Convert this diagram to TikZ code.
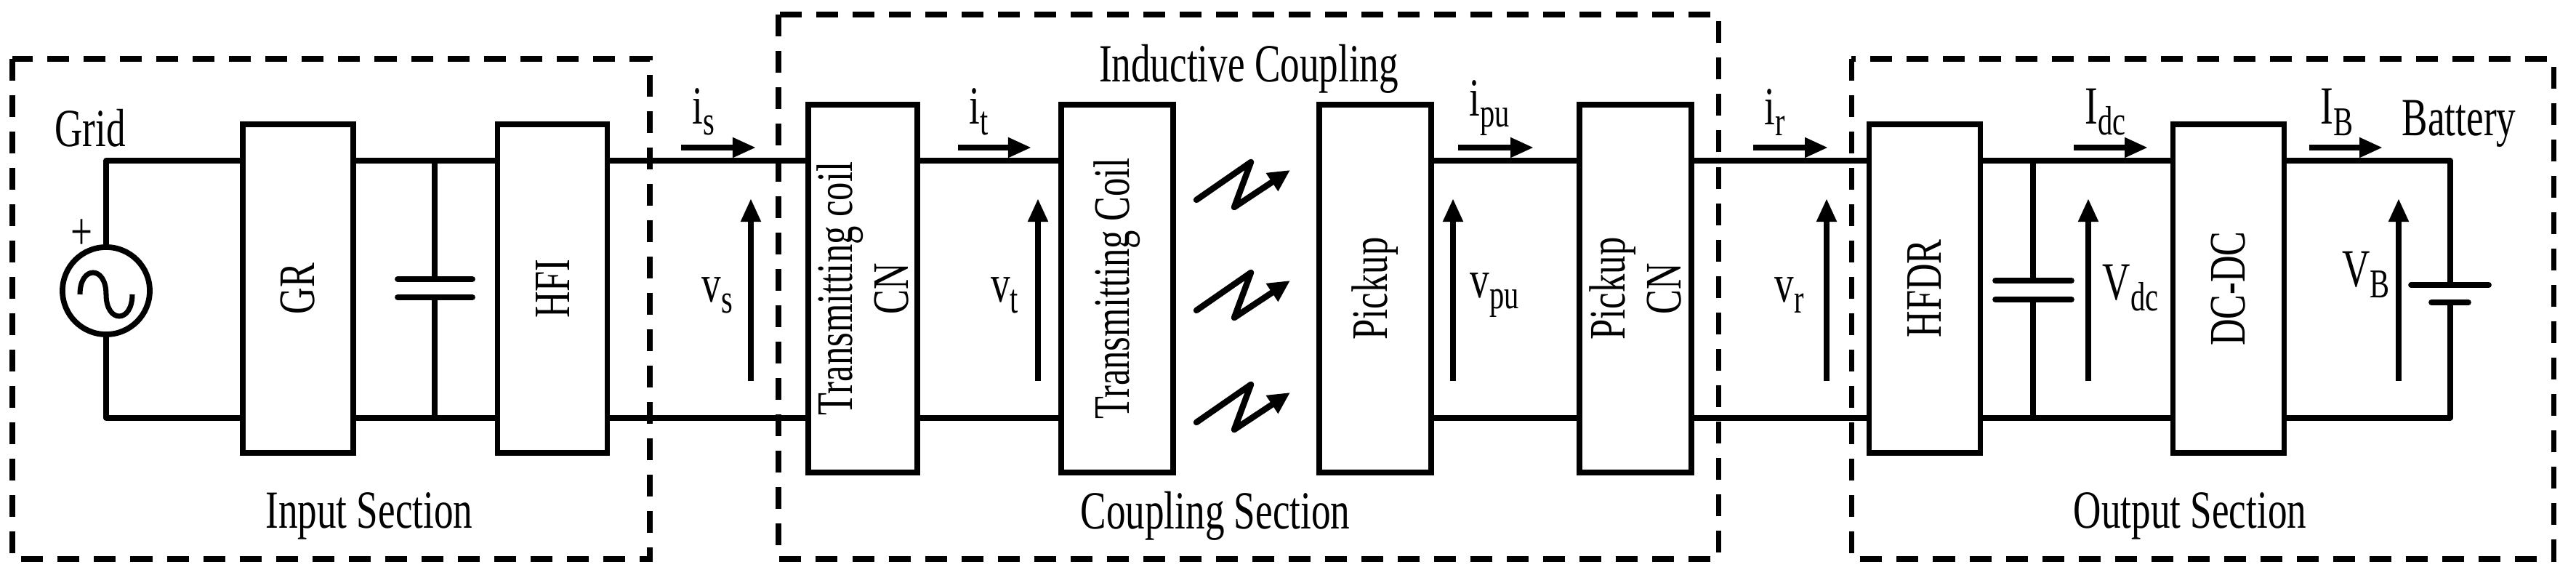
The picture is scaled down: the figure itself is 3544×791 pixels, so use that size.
\documentclass[tikz,border=0pt]{standalone}
\usepackage{fontspec}
\setmainfont{Liberation Serif}[FakeStretch=0.72]
\usetikzlibrary{arrows.meta}
\newcommand\mysub[1]{\raisebox{-0.45ex}{\fontsize{16}{16}\selectfont #1}}
\begin{document}
\begin{tikzpicture}[x=0.01cm,y=-0.01cm,
  wire/.style={line width=2.2pt,line cap=round,line join=round},
  blk/.style={draw,line width=2.2pt,minimum width=#1,rotate=90,inner sep=0pt,align=center,font=\fontsize{20}{22}\selectfont},
  sec/.style={draw,line width=2pt,dash pattern=on 0.3cm off 0.2cm},
  arr/.style={line width=2.2pt,-{Triangle[length=0.32cm,width=0.26cm]}},
  lbl/.style={font=\fontsize{21}{24}\selectfont,inner sep=0pt}]
\useasboundingbox (0,0) rectangle (3544,791);
% sections
\draw[sec] (17,81) rectangle (894,769);
\draw[sec] (1071,20) rectangle (2364,769);
\draw[sec] (2547,81) rectangle (3513,769);
\node[lbl] at (508,710) {Input Section};
\node[lbl] at (1672,710) {Coupling Section};
\node[lbl] at (3013,710) {Output Section};
\node[lbl] at (1718,95) {Inductive Coupling};
% blocks (rotated: north = left side, south = right side)
\node[blk=4.52cm,minimum height=1.52cm] (gr) at (410,397) {GR};
\node[blk=4.52cm,minimum height=1.51cm] (hfi) at (760,397) {HFI};
\node[blk=5.06cm,minimum height=1.50cm] (tcn) at (1187,397) {Transmitting coil\\CN};
\node[blk=5.06cm,minimum height=1.54cm] (tc) at (1537,397) {Transmitting Coil};
\node[blk=5.06cm,minimum height=1.54cm] (pu) at (1892,397) {Pickup};
\node[blk=5.06cm,minimum height=1.54cm] (pcn) at (2250,397) {Pickup\\CN};
\node[blk=4.52cm,minimum height=1.53cm] (hfdr) at (2648,397) {HFDR};
\node[blk=4.52cm,minimum height=1.53cm] (dc) at (3066,397) {DC-DC};
% source
\node[draw,circle,line width=2.2pt,minimum size=1.2cm,inner sep=0pt] (src) at (146,400) {};
\draw[line width=2pt] (110,405) .. controls (110,365) and (146,365) .. (146,405) .. controls (146,445) and (182,445) .. (182,405);
\node[lbl] at (112,323) {+};
\node[lbl] (grid) at (124,176) {Grid};
\coordinate (st) at (146,221); \coordinate (sb) at (146,575);
\draw[wire] (src.north) -- (st) -- (gr.north|-st);
\draw[wire] (src.south) -- (sb) -- (gr.north|-sb);
% capacitor 1
\coordinate (c1t) at (598,221); \coordinate (c1b) at (598,575);
\draw[wire] (gr.south|-c1t) -- (hfi.north|-c1t);
\draw[wire] (gr.south|-c1b) -- (hfi.north|-c1b);
\draw[wire] (c1t) -- (598,384) (598,409) -- (c1b);
\draw[wire] (547,384) -- (650,384) (547,409) -- (650,409);
% rails between blocks
\foreach \a/\b in {hfi/tcn,tcn/tc,pu/pcn,pcn/hfdr,hfdr/dc}{
  \draw[wire] (\a.south|-0,221) -- (\b.north|-0,221);
  \draw[wire] (\a.south|-0,575) -- (\b.north|-0,575);}
% capacitor 2
\draw[wire] (2797,221) -- (2797,386) (2797,412) -- (2797,575);
\draw[wire] (2745,386) -- (2850,386) (2745,412) -- (2850,412);
% battery
\coordinate (bt) at (3371,221); \coordinate (bb) at (3371,575);
\draw[wire] (dc.south|-bt) -- (bt) -- (3371,392);
\draw[wire] (dc.south|-bb) -- (bb) -- (3371,416);
\draw[wire] (3317,392) -- (3424,392);
\draw[wire] (3345,416) -- (3396,416);
\node[lbl] at (3383,170) {Battery};
% current arrows
\foreach \x/\w/\t in {937/103/{i\mysub{s}},1318/101/{i\mysub{t}},2006/104/{i\mysub{pu}},2412/103/{i\mysub{r}},2853/102/{I\mysub{dc}},3177/101/{I\mysub{B}}}{
  \draw[arr] (\x,203) -- ++(\w,0);
  \node[lbl,anchor=south west] at (\x+15,187) {\t};}
% voltage arrows
\foreach \x/\lx/\ly/\t in {1033/987/406/{v\mysub{s}},1428/1382/406/{v\mysub{t}},1999/2056/406/{v\mysub{pu}},2513/2462/406/{v\mysub{r}},2873/2931/396/{V\mysub{dc}},3300/3255/378/{V\mysub{B}}}{
  \draw[arr] (\x,524) -- (\x,273);
  \node[lbl] at (\lx,\ly) {\t};}
% zigzags
\foreach \dy in {0,152,306}{
  \draw[line width=2.4pt,line cap=round,line join=round,-{Triangle[length=0.3cm,width=0.28cm]}]
    (1646,275+\dy) -- (1721,223+\dy) -- (1698,285+\dy) -- (1775,234+\dy);}
\end{tikzpicture}
\end{document}
